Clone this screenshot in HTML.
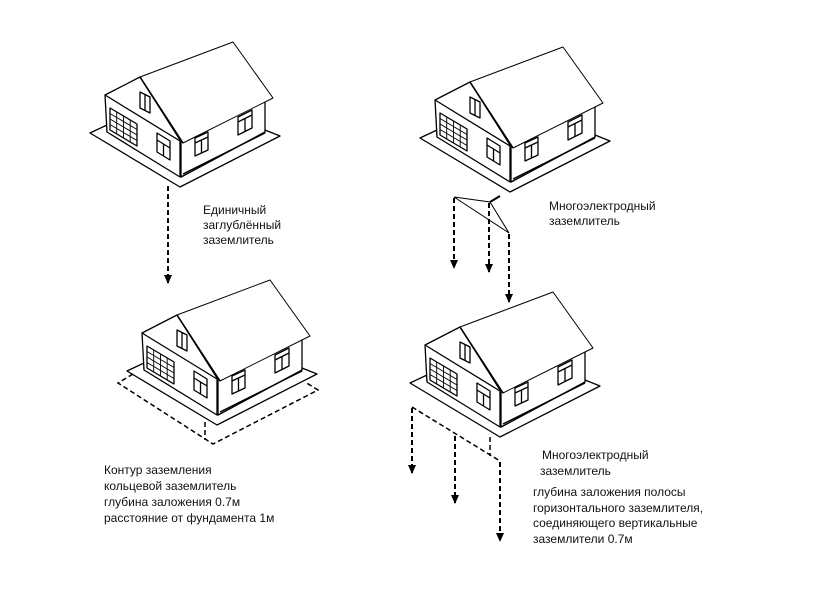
<!DOCTYPE html>
<html><head><meta charset="utf-8"><style>
html,body{margin:0;padding:0;background:#fff;}
svg{display:block}
text{font-family:"Liberation Sans",sans-serif;font-size:12px;fill:#111}
</style></head><body>
<svg width="818" height="591" viewBox="0 0 818 591" xmlns="http://www.w3.org/2000/svg">
<defs>
<marker id="ar" markerWidth="10" markerHeight="10" refX="8" refY="4" orient="auto" markerUnits="userSpaceOnUse">
<path d="M0,0 L9,4 L0,8 Z" fill="#000"/>
</marker>
<g id="h" fill="none" stroke="#000" stroke-width="1.3" stroke-linejoin="round">
<polygon points="107,125 90,133 180,187 280,136 265,130 265,132 181,177 107,131" fill="#fff"/>
<polygon points="105,95 140,77 180,140 180,177 107,132" fill="#fff"/>
<line x1="105" y1="95" x2="180" y2="141"/>
<polygon points="181,142 265,100 265,132 181,177" fill="#fff"/>
<line x1="183" y1="174" x2="265" y2="133"/>
<polygon points="140,77 233,42 273,98 183,143" fill="#fff" stroke-width="1"/>
<line x1="140" y1="77" x2="183" y2="143" stroke-width="1.6"/>
<polygon points="110,108 137,124 137,146 110,130"/>
<path d="M116.7,112 V134 M123.5,116 V138 M130.2,120 V142 M110,113.5 L137,129.5 M110,119 L137,135 M110,124.5 L137,140.5" stroke-width="0.9"/>
<polygon points="140,92 150,97 150,113 140,108"/>
<line x1="145" y1="94.5" x2="145" y2="110.5"/>
<polygon points="157,133 170,141 170,160 157,152"/>
<path d="M157,140 L170,148 M163.5,144 V156"/>
<polygon points="195,138 208,132 208,150 195,156"/>
<path d="M195,143 L208,137 M201.5,140 V153"/>
<polygon points="238,117 252,110 252,128 238,135"/>
<path d="M238,122 L252,115 M245,118 V131"/>
</g>
</defs>

<use href="#h"/>
<use href="#h" transform="translate(330,5)"/>
<use href="#h" transform="translate(37,238)"/>
<use href="#h" transform="translate(320,250)"/>

<g fill="none" stroke="#000" stroke-width="2" stroke-dasharray="5,3">
<line x1="168" y1="186" x2="168" y2="283" marker-end="url(#ar)"/>
<line x1="454" y1="198" x2="454" y2="268" marker-end="url(#ar)"/>
<line x1="489" y1="203" x2="489" y2="272" marker-end="url(#ar)"/>
<line x1="509" y1="234" x2="509" y2="302" marker-end="url(#ar)"/>
<polyline points="133,374 118,383 213,444 318,390 305,382" stroke-width="1.5"/>
<line x1="205" y1="422" x2="205" y2="440" stroke-width="1.5"/>
<polyline points="412,407 500,461" stroke-width="1.5"/>
<line x1="490" y1="437" x2="490" y2="456" stroke-width="1.5"/>
<line x1="412" y1="408" x2="412" y2="473" marker-end="url(#ar)"/>
<line x1="455" y1="436" x2="455" y2="503" marker-end="url(#ar)"/>
<line x1="500" y1="462" x2="500" y2="541" marker-end="url(#ar)"/>
</g>
<g fill="none" stroke="#000" stroke-width="1">
<polyline points="454,197 490,202 509,233 454,197"/>
<line x1="490" y1="202" x2="500" y2="196" stroke-width="2"/>
</g>

<text x="203" y="214">Единичный</text>
<text x="203" y="229">заглублённый</text>
<text x="203" y="244">заземлитель</text>

<text x="549" y="210">Многоэлектродный</text>
<text x="549" y="225">заземлитель</text>

<text x="104" y="474">Контур заземления</text>
<text x="104" y="490">кольцевой заземлитель</text>
<text x="104" y="506">глубина заложения 0.7м</text>
<text x="104" y="522">расстояние от фундамента 1м</text>

<text x="542" y="459">Многоэлектродный</text>
<text x="540" y="475">заземлитель</text>
<text x="533" y="496">глубина заложения полосы</text>
<text x="533" y="512">горизонтального заземлителя,</text>
<text x="533" y="527">соединяющего вертикальные</text>
<text x="533" y="543">заземлители 0.7м</text>
</svg>
</body></html>
